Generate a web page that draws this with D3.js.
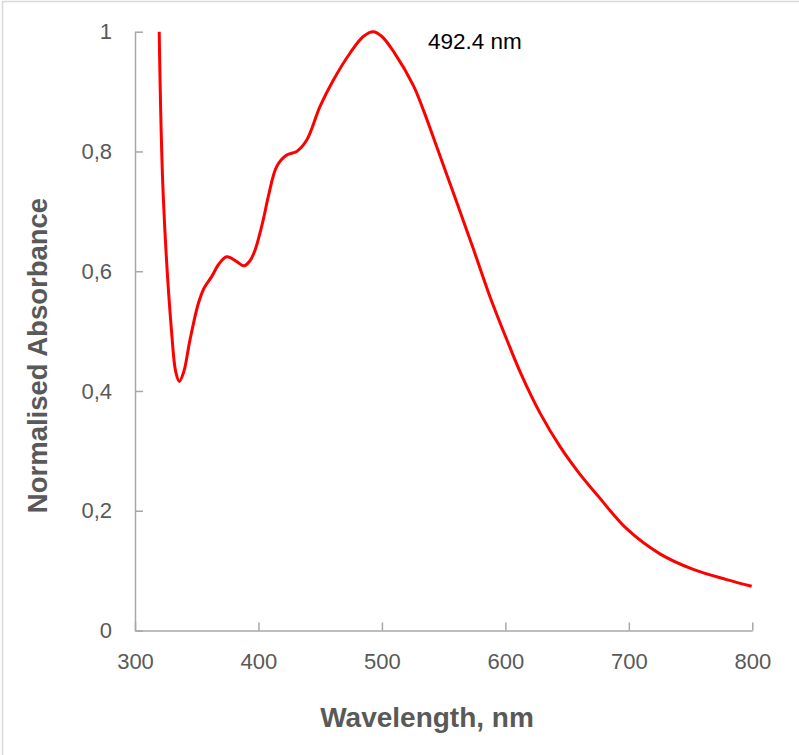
<!DOCTYPE html>
<html>
<head>
<meta charset="utf-8">
<script src="https://cdn.jsdelivr.net/npm/d3@7"></script>
<style>
  html, body { margin: 0; padding: 0; background: #fff; }
  svg { display: block; }
</style>
</head>
<body>
<script>
// spectrum (nm, normalised absorbance)
const wavelengths = [319.6, 322.9, 329.7, 333.0, 335.9, 339.5, 344.5, 351.3, 356.0, 362.1,
  368.0, 374.3, 382.4, 388.3, 393.0, 397.2, 403.9, 408.0, 414.8, 422.9, 431.0, 439.1, 449.8, 460.6,
  474.1, 484.9, 493.0, 500.0, 510.0, 525.5, 533.6, 544.4, 555.2, 566.0, 574.1, 587.6, 601.1, 613.2,
  628.1, 644.3, 660.0, 675.3, 698.2, 725.2, 752.2, 779.2, 799.5];
const absorbance = [1.000, 0.725, 0.497, 0.432, 0.416, 0.432, 0.485, 0.546, 0.572, 0.591,
  0.612, 0.624, 0.616, 0.609, 0.617, 0.635, 0.686, 0.725, 0.775, 0.794, 0.800, 0.819, 0.875, 0.919,
  0.964, 0.992, 1.000, 0.992, 0.965, 0.910, 0.869, 0.808, 0.746, 0.684, 0.637, 0.557, 0.486, 0.426,
  0.363, 0.307, 0.262, 0.224, 0.170, 0.128, 0.102, 0.085, 0.074];

const xTicks = [300, 400, 500, 600, 700, 800];
const yTicks = [0, 0.2, 0.4, 0.6, 0.8, 1];
const peakLabel = "492.4 nm";

const WIDTH = 799, HEIGHT = 755;
const FONT = "'Liberation Sans', Arial, sans-serif";
const AXIS_COLOR = "#aba6a6";
const TEXT_COLOR = "#595959";

const svg = d3.select("body").append("svg")
  .attr("width", WIDTH)
  .attr("height", HEIGHT);

svg.append("rect")
  .attr("width", WIDTH).attr("height", HEIGHT)
  .attr("fill", "#fff");

// chart area outline (only top and left are inside the picture)
svg.append("rect")
  .attr("x", 2.5).attr("y", 1.5)
  .attr("width", WIDTH + 10).attr("height", HEIGHT + 10)
  .attr("fill", "none")
  .attr("stroke", "#d9d9d9")
  .attr("stroke-width", 1.5);

const x = d3.scaleLinear().domain([300, 800]).range([135, 752.3]);
const y = d3.scaleLinear().domain([0, 1]).range([630.5, 31.7]);

const fmtY = v => (v === 0 || v === 1) ? String(v) : d3.format(".1f")(v).replace(".", ",");

// x axis, ticks pointing up into the plot
const gx = svg.append("g")
  .attr("transform", `translate(0,${y(0)})`)
  .call(d3.axisBottom(x).tickValues(xTicks).tickSize(-8).tickSizeOuter(0).tickPadding(23));

// y axis, ticks pointing right
const gy = svg.append("g")
  .attr("transform", `translate(${x(300)},0)`)
  .call(d3.axisLeft(y).tickValues(yTicks).tickFormat(fmtY).tickSize(-8).tickSizeOuter(0).tickPadding(23));

[gx, gy].forEach(g => {
  g.select(".domain").attr("stroke", AXIS_COLOR).attr("stroke-width", 1.5);
  g.selectAll(".tick line").attr("stroke", AXIS_COLOR).attr("stroke-width", 1.5);
  g.selectAll(".tick text")
    .attr("fill", TEXT_COLOR)
    .attr("font-family", FONT)
    .attr("font-size", 22);
});

// the spectrum
const points = wavelengths.map((w, i) => [w, absorbance[i]]);
const line = d3.line()
  .x(d => x(d[0]))
  .y(d => y(d[1]))
  .curve(d3.curveCatmullRom.alpha(0.5));

svg.append("path")
  .datum(points)
  .attr("d", line)
  .attr("fill", "none")
  .attr("stroke", "#ff0000")
  .attr("stroke-width", 3)
  .attr("stroke-linejoin", "round");

// peak annotation
svg.append("text")
  .attr("x", 428)
  .attr("y", 48.5)
  .attr("fill", "#000")
  .attr("font-family", FONT)
  .attr("font-size", 22.5)
  .text(peakLabel);

// axis titles
svg.append("text")
  .attr("x", 427)
  .attr("y", 727)
  .attr("text-anchor", "middle")
  .attr("fill", TEXT_COLOR)
  .attr("font-family", FONT)
  .attr("font-weight", "bold")
  .attr("font-size", 28)
  .text("Wavelength, nm");

svg.append("text")
  .attr("transform", "translate(47,355.5) rotate(-90)")
  .attr("text-anchor", "middle")
  .attr("fill", TEXT_COLOR)
  .attr("font-family", FONT)
  .attr("font-weight", "bold")
  .attr("font-size", 27.5)
  .text("Normalised Absorbance");
</script>
</body>
</html>
